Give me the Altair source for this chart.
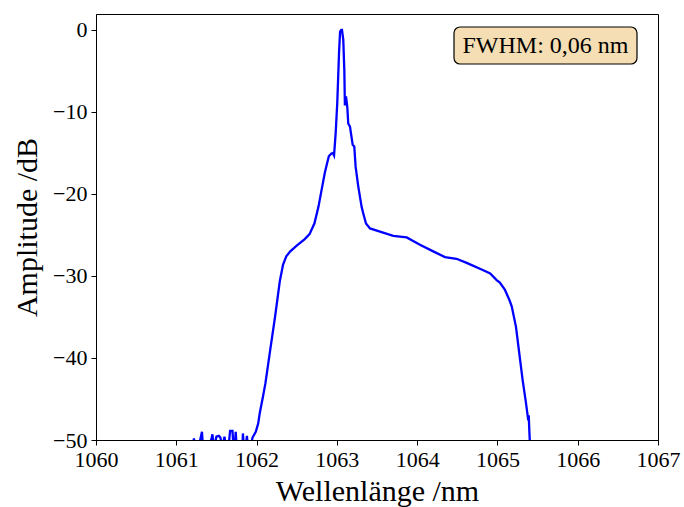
import altair as alt
import pandas as pd

# Wavelength (nm) and amplitude (dB)
wavelength = [
    1061.15, 1061.19, 1061.22, 1061.25, 1061.30, 1061.32, 1061.34, 1061.40,
    1061.44, 1061.45, 1061.47, 1061.50, 1061.53, 1061.55, 1061.57, 1061.60,
    1061.64, 1061.67, 1061.70, 1061.72, 1061.74, 1061.76, 1061.82, 1061.83,
    1061.85, 1061.88, 1061.90, 1061.95, 1061.99, 1062.02, 1062.04, 1062.08,
    1062.11, 1062.17, 1062.23, 1062.29, 1062.33, 1062.37, 1062.42, 1062.50,
    1062.60, 1062.66, 1062.72, 1062.77, 1062.81, 1062.85, 1062.88, 1062.90,
    1062.93, 1062.95, 1062.965, 1062.985, 1063.005, 1063.027, 1063.04, 1063.055,
    1063.064, 1063.08, 1063.093, 1063.10, 1063.114, 1063.13, 1063.142, 1063.164,
    1063.176, 1063.197, 1063.217, 1063.234, 1063.267, 1063.309, 1063.33, 1063.363,
    1063.413, 1063.537, 1063.703, 1063.87, 1064.035, 1064.20, 1064.347, 1064.49,
    1064.617, 1064.824, 1064.91, 1064.99, 1065.03, 1065.094, 1065.148, 1065.178,
    1065.231, 1065.272, 1065.314, 1065.356, 1065.384, 1065.39, 1065.397, 1065.405,
    1065.41,
]
amplitude = [
    -53.0, -52.0, -49.8, -52.0, -49.9, -49.0, -52.0, -51.0,
    -49.8, -49.3, -51.0, -49.6, -49.5, -49.7, -51.0, -49.6,
    -52.0, -48.9, -48.9, -52.0, -49.0, -52.0, -52.0, -49.2,
    -52.0, -49.5, -52.0, -49.7, -49.0, -48.0, -46.7, -44.7,
    -43.1, -39.0, -35.0, -30.6, -28.6, -27.6, -27.0, -26.3,
    -25.5, -24.9, -23.6, -21.6, -19.5, -17.4, -16.2, -15.4,
    -15.1, -15.0, -15.3, -12.6, -8.9, -2.8, -0.2, 0.0,
    0.0, -1.2, -4.9, -9.2, -8.1, -9.4, -11.4, -11.8,
    -12.6, -14.0, -14.2, -16.7, -19.1, -21.6, -22.4, -23.6,
    -24.2, -24.6, -25.1, -25.3, -26.2, -27.0, -27.7, -27.9,
    -28.4, -29.3, -29.7, -30.5, -30.8, -31.7, -32.9, -33.7,
    -36.2, -39.4, -42.7, -45.5, -47.6, -47.0, -48.8, -50.5,
    -53.0,
]

x_ticks = [1060, 1061, 1062, 1063, 1064, 1065, 1066, 1067]
y_ticks = [0, -10, -20, -30, -40, -50]
annotation = ["FWHM: 0,06 nm"]

FONT = "Liberation Serif"

df = pd.DataFrame({"wl": wavelength, "amp": amplitude})

line = alt.Chart(df).mark_line(color="#0000ff", strokeWidth=2.3, clip=True).encode(
    x=alt.X(
        "wl:Q",
        scale=alt.Scale(domain=[1060, 1067], nice=False, zero=False),
        axis=alt.Axis(values=x_ticks, format="d", title="Wellenlänge /nm"),
    ),
    y=alt.Y(
        "amp:Q",
        scale=alt.Scale(domain=[-50, 1.95], nice=False, zero=False),
        axis=alt.Axis(values=y_ticks, format="d", title="Amplitude /dB"),
    ),
    order=alt.Order("wl:Q"),
)

ann_df = pd.DataFrame({"label": annotation})

box = alt.Chart(ann_df).mark_rect(
    fill="#f5deb3", stroke="black", strokeWidth=1.2, cornerRadius=6
).encode(
    x=alt.value(358), x2=alt.value(541), y=alt.value(13), y2=alt.value(50)
)

text = alt.Chart(ann_df).mark_text(
    font=FONT, fontSize=24, color="black", align="center", baseline="middle"
).encode(
    text="label:N", x=alt.value(449.5), y=alt.value(32)
)

chart = alt.layer(line, box, text).properties(
    width=562,
    height=426,
    autosize=alt.AutoSizeParams(type="none"),
    padding={"left": 96, "top": 14, "right": 26, "bottom": 67},
    background="white",
).configure_view(
    stroke="black", strokeWidth=1
).configure_axis(
    grid=False,
    domainColor="black",
    tickColor="black",
    tickSize=5,
    labelFont=FONT,
    labelFontSize=22,
    labelColor="black",
    labelPadding=4,
    titleFont=FONT,
    titleFontSize=30,
    titleFontWeight="normal",
    titleColor="black",
).configure_axisX(
    titlePadding=6,
    labelFlush=False,
).configure_axisY(
    titlePadding=10,
    labelFlush=False,
)

chart.save("out.html", embed_options={"renderer": "svg", "actions": False})
